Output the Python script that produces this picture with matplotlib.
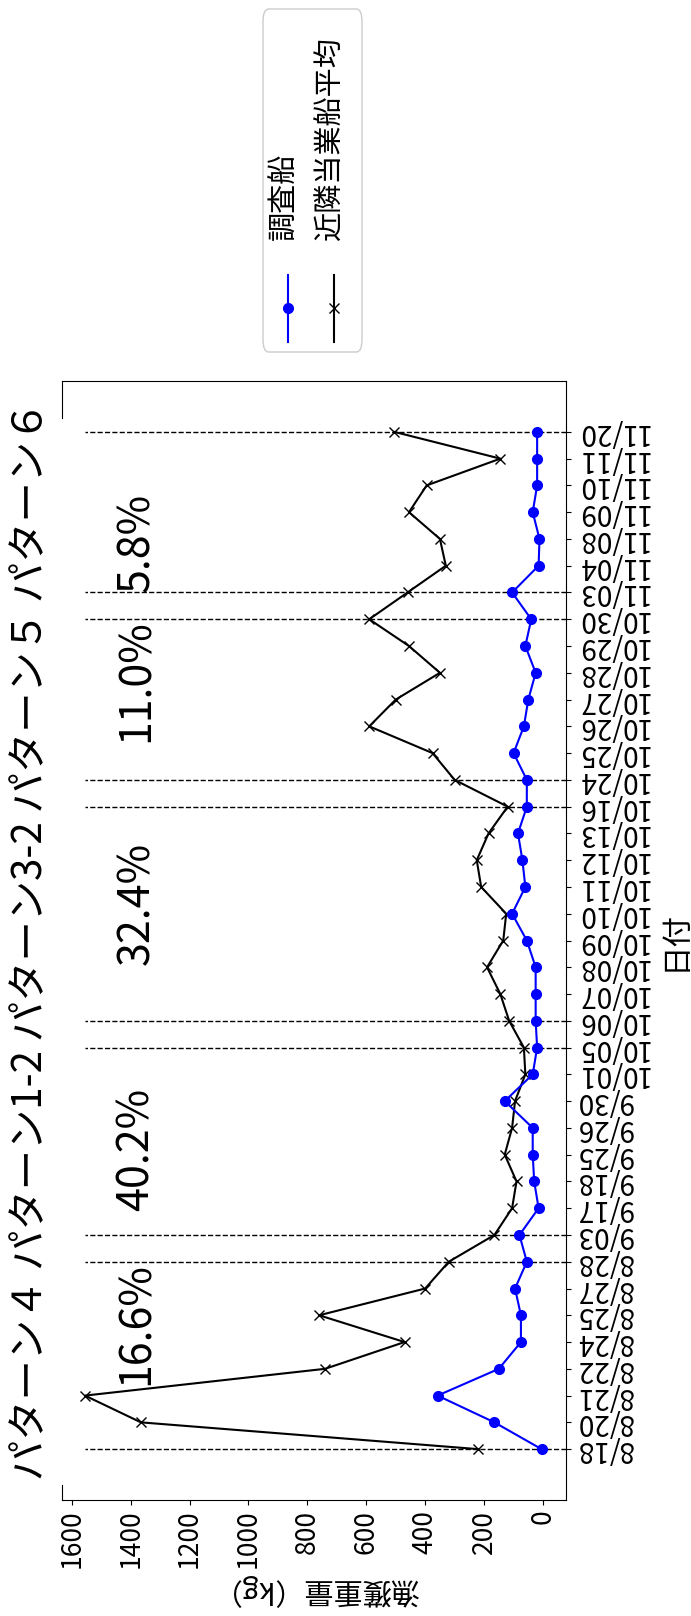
import numpy as np
import matplotlib
matplotlib.use("Agg")
import matplotlib.pyplot as plt
from matplotlib.lines import Line2D
from matplotlib.patches import FancyBboxPatch

plt.rcParams['font.family'] = ['Noto Sans CJK JP', 'DejaVu Sans']

# survey dates (categorical axis)
dates = ['8/18', '8/20', '8/21', '8/22', '8/24', '8/25', '8/27', '8/28',
         '9/03', '9/17', '9/18', '9/25', '9/26', '9/30',
         '10/01', '10/05', '10/06', '10/07', '10/08', '10/09', '10/10',
         '10/11', '10/12', '10/13', '10/16',
         '10/24', '10/25', '10/26', '10/27', '10/28', '10/29', '10/30',
         '11/03', '11/04', '11/08', '11/09', '11/10', '11/11', '11/20']

# catch (kg)
survey = [5, 165, 358, 150, 75, 75, 95, 55,
          80, 15, 30, 35, 35, 130,
          35, 20, 25, 25, 25, 55, 105,
          60, 70, 85, 55,
          55, 100, 65, 50, 25, 60, 40,
          105, 15, 12, 35, 20, 20, 20]
nearby = [220, 1365, 1555, 740, 470, 760, 400, 320,
          165, 105, 90, 130, 105, 95,
          60, 65, 115, 145, 190, 135, 125,
          210, 225, 185, 120,
          300, 375, 590, 500, 350, 455, 590,
          460, 330, 350, 455, 395, 145, 505]

# pattern periods (first date, last date) and share of catch
periods = [('8/18', '8/28'), ('9/03', '10/05'), ('10/06', '10/16'),
           ('10/24', '10/30'), ('11/03', '11/20')]
shares = ['16.6%', '40.2%', '32.4%', '11.0%', '5.8%']
share_pos = [2.4, 8.9, 18.1, 26.4, 32.0]
title = 'パターン４ パターン1-2 パターン3-2 パターン５ パターン６'
legend_labels = ['調査船', '近隣当業船平均']

W, H = 691, 1616
fig = plt.figure(figsize=(W / 100, H / 100), dpi=100)
ax = fig.add_axes([62 / W, 1 - 1500 / H, (566 - 62) / W, (1500 - 381) / H])

idx = np.arange(len(dates))
xlo, xhi = -78, 1633

# period boundaries
bounds = []
for a, b in periods:
    bounds += [dates.index(a), dates.index(b)]
ax.hlines(bounds, xlo, max(nearby), colors='black', linestyles='dashed', lw=1, zorder=1)

ax.plot(survey, idx, '-o', color='blue', lw=1.5, ms=7, zorder=3)
ax.plot(nearby, idx, '-x', color='black', lw=1.5, ms=7, zorder=2)

ax.set_xlim(xhi, xlo)
ax.set_ylim(-1.9, len(dates) - 1 + 1.9)
ax.set_xticks(np.arange(0, 1601, 200))
ax.tick_params(axis='x', labelrotation=90, labelsize=19)
ax.yaxis.tick_right()
ax.yaxis.set_label_position('right')
ax.set_yticks(idx)
ax.set_yticklabels(dates)
ax.tick_params(axis='y', labelrotation=180, labelsize=20)
for t in ax.get_yticklabels():
    t.set_va('center')

ax.set_xlabel('漁獲重量（kg）', fontsize=21, rotation=180)
ax.set_ylabel('日付', fontsize=22, rotation=90, labelpad=8)

# spine on the title side is broken where the title runs
ax.spines['left'].set_visible(False)
lo_end = (1500 - 1485) / (1500 - 381)
hi_start = (1500 - 418) / (1500 - 381)
ax.plot([0, 0], [0, lo_end], transform=ax.transAxes, color='black', lw=0.8, clip_on=False)
ax.plot([0, 0], [hi_start, 1], transform=ax.transAxes, color='black', lw=0.8, clip_on=False)

ax.text(-(62 - 31) / (566 - 62), 0.5, title, transform=ax.transAxes, rotation=90,
        ha='center', va='center', fontsize=29)

for s, p in zip(shares, share_pos):
    ax.text(1378, p, s, rotation=90, ha='center', va='bottom', fontsize=31)


# legend, laid out sideways
def fx(x):
    return x / W


def fy(y):
    return 1 - y / H


box = FancyBboxPatch((fx(263), fy(352)), fx(362) - fx(263), fy(9) - fy(352),
                     boxstyle='round,pad=0,rounding_size=0.008',
                     transform=fig.transFigure, facecolor='white',
                     edgecolor='0.8', lw=1)
fig.add_artist(box)
styles = [dict(color='blue', marker='o', ms=7), dict(color='black', marker='x', ms=7)]
for lx, lab, st in zip([288, 334], legend_labels, styles):
    fig.add_artist(Line2D([fx(lx), fx(lx)], [fy(342), fy(275)], lw=1.5,
                          transform=fig.transFigure, color=st['color']))
    fig.add_artist(Line2D([fx(lx)], [fy(308)], transform=fig.transFigure,
                          linestyle='none', **st))
    fig.text(fx(lx - 3), fy(240), lab, rotation=90, ha='center', va='bottom', fontsize=21)

fig.savefig('out.png', dpi=100)
